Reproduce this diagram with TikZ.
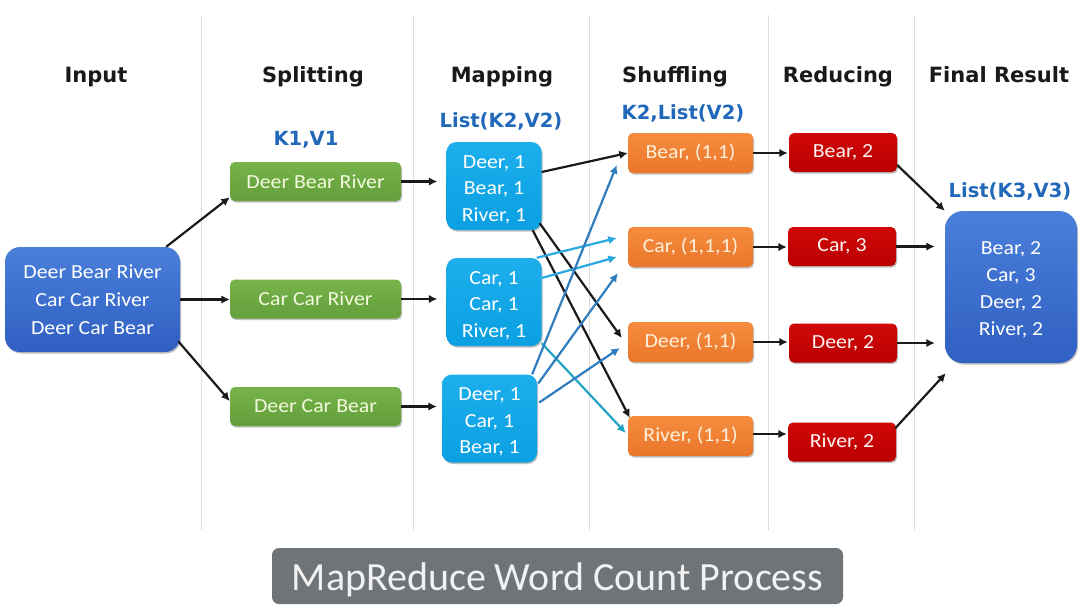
\documentclass[tikz,border=0pt]{standalone}
\usepackage{fontspec}
\usetikzlibrary{arrows.meta,calc,shadows}
\newfontfamily\bxf[FakeStretch=1.09]{Carlito}
\newfontfamily\ttlf{Carlito}
\newfontfamily\hdf{DejaVu Sans}
\newcommand\mlines[3]{\raisebox{-#1}[0pt][0pt]{\fontsize{20}{#2}\selectfont\begin{tabular}{@{}c@{}}#3\end{tabular}}}
\definecolor{sepc}{HTML}{DDDDDD}
\definecolor{lblc}{RGB}{33,104,186}
\definecolor{inTop}{HTML}{4A7FDA}
\definecolor{inBot}{HTML}{3060C2}
\definecolor{grTop}{HTML}{77B34A}
\definecolor{grBot}{HTML}{639F3B}
\definecolor{grTxt}{HTML}{F2F9DC}
\definecolor{cyTop}{HTML}{1DAEEC}
\definecolor{cyBot}{HTML}{0AA0E2}
\definecolor{orTop}{HTML}{F68C3E}
\definecolor{orBot}{HTML}{EA762B}
\definecolor{orTxt}{HTML}{FFF0DA}
\definecolor{rdTop}{HTML}{D00808}
\definecolor{rdBot}{HTML}{BA0000}
\definecolor{rdTxt}{HTML}{FFF2F2}
\definecolor{ttlc}{HTML}{6F7479}
\definecolor{arrBlk}{HTML}{1A1A1A}
\definecolor{arrLt}{HTML}{2AA8E2}
\definecolor{arrDk}{HTML}{2F7DBF}
\definecolor{arrTl}{HTML}{22A4C4}
\tikzset{
  shd/.style={drop shadow={shadow xshift=1pt,shadow yshift=-1.5pt,opacity=0.25,fill=black}},
  bx/.style={inner sep=0pt,align=center,font={\bxf\fontsize{20}{27}\selectfont}},
  inbox/.style={bx,shd,top color=inTop,bottom color=inBot,rounded corners=15pt,text=white,minimum width=175pt,minimum height=105pt},
  finbox/.style={bx,shd,top color=inTop,bottom color=inBot,rounded corners=18pt,text=white,minimum width=132pt,minimum height=152pt},
  spbox/.style={bx,shd,top color=grTop,bottom color=grBot,rounded corners=5pt,text=grTxt,minimum width=171pt,minimum height=39pt},
  mpbox/.style={bx,shd,top color=cyTop,bottom color=cyBot,rounded corners=10pt,text=white,minimum width=95pt,minimum height=88pt},
  shbox/.style={bx,shd,top color=orTop,bottom color=orBot,rounded corners=5pt,text=orTxt,minimum width=125pt,minimum height=40pt},
  rdbox/.style={bx,shd,top color=rdTop,bottom color=rdBot,rounded corners=5pt,text=rdTxt,minimum width=108pt,minimum height=39pt},
  hdr/.style={inner sep=0pt,anchor=base,font={\hdf\bfseries\fontsize{21}{25}\selectfont},text=black!90},
  lbl/.style={inner sep=0pt,anchor=base,font={\hdf\bfseries\fontsize{19.5}{23}\selectfont},text=lblc},
  sepline/.style={draw=sepc,line width=0.7pt},
  arr/.style={line width=2.2pt,-{Latex[length=8.5pt,width=8.5pt]}},
  ablk/.style={arr,draw=arrBlk},
  alt/.style={arr,draw=arrLt},
  adk/.style={arr,draw=arrDk},
  atl/.style={arr,draw=arrTl},
}
\begin{document}
\begin{tikzpicture}[x=1pt,y=-1pt]
\useasboundingbox (0,0) rectangle (1080,614);
\fill[white] (0,0) rectangle (1080,614);
% separators
\foreach \sx in {201,413,589,768,914}
  \draw[sepline] (\sx,15) -- (\sx,530);
% headers
\node[hdr] (hIn) at (96,82) {Input};
\node[hdr] (hSp) at (313,82) {Splitting};
\node[hdr] (hMp) at (502,82) {Mapping};
\node[hdr] (hSh) at (675,82) {Shuffling};
\node[hdr] (hRd) at (838,82) {Reducing};
\node[hdr] (hFn) at (999,82) {Final Result};
% labels
\node[lbl] (l1) at (306,145) {K1,V1};
\node[lbl] (l2) at (501,127) {List(K2,V2)};
\node[lbl] (l3) at (683,119) {K2,List(V2)};
\node[lbl] (l4) at (1010,197) {List(K3,V3)};
% input
\node[inbox] (in) at (92.5,299.5) {\mlines{7pt}{28}{Deer Bear River\\Car Car River\\Deer Car Bear}};
% splitting
\node[spbox] (sp1) at (315.5,181.5) {Deer Bear River};
\node[spbox] (sp2) at (315.5,299) {Car Car River};
\node[spbox] (sp3) at (315.5,406.5) {Deer Car Bear};
% mapping
\node[mpbox] (mp1) at (494,186) {\mlines{8.5pt}{26.5}{Deer, 1\\Bear, 1\\River, 1}};
\node[mpbox] (mp2) at (494,302) {\mlines{8.5pt}{26.5}{Car, 1\\Car, 1\\River, 1}};
\node[mpbox] (mp3) at (489.5,418.5) {\mlines{8.5pt}{26.5}{Deer, 1\\Car, 1\\Bear, 1}};
% shuffling
\node[shbox] (sh1) at (690.5,153) {Bear, (1,1)};
\node[shbox] (sh2) at (690.5,247) {Car, (1,1,1)};
\node[shbox] (sh3) at (690.5,342) {Deer, (1,1)};
\node[shbox] (sh4) at (690.5,436) {River, (1,1)};
% reducing
\node[rdbox] (rd1) at (843,152.5) {Bear, 2};
\node[rdbox] (rd2) at (842,246.5) {Car, 3};
\node[rdbox] (rd3) at (843,343) {Deer, 2};
\node[rdbox] (rd4) at (842,442) {River, 2};
% final
\node[finbox] (fin) at (1011,287) {\mlines{8pt}{27}{Bear, 2\\Car, 3\\Deer, 2\\River, 2}};
% title
\node[inner sep=0pt,fill=ttlc,rounded corners=7pt,minimum width=571pt,minimum height=56pt,text height=28pt,text depth=0pt,text=white!95!black,font={\ttlf\fontsize{40}{44}\selectfont}] (ttl) at (557.5,576) {MapReduce Word Count Process};
% input -> splitting
\draw[ablk] ($(in.north east)+(-14,0)$) -- ($(sp1.south west)+(0,-4)$);
\draw[ablk] (in.east) -- (in.east -| sp2.west);
\draw[ablk] ($(in.south east)+(-2,-11)$) -- ($(sp3.west)+(0,-5.5)$);
% splitting -> mapping
\draw[ablk,shorten >=9pt] (sp1.east) -- (sp1.east -| mp1.west);
\draw[ablk,shorten >=9pt] (sp2.east) -- (sp2.east -| mp2.west);
\draw[ablk,shorten >=5pt] (sp3.east) -- (sp3.east -| mp3.west);
% mapping -> shuffling
\draw[ablk] ($(mp1.east)+(0,-14)$) -- (sh1.west);
\draw[ablk] ($(mp1.south east)+(-2,-7)$) -- ($(sh3.west)+(-6,-4)$);
\draw[ablk] ($(mp1.south east)+(-9,0)$) -- ($(sh4.north west)+(2,2)$);
\draw[alt] ($(mp2.north east)+(-5,0)$) -- ($(sh2.west)+(-11,-9)$);
\draw[alt] ($(mp2.east)+(0,-24)$) -- ($(sh2.west)+(-11,10)$);
\draw[atl] ($(mp2.south east)+(0,-3)$) -- ($(sh4.west)+(-2,-3)$);
\draw[adk] ($(mp3.north east)+(-5,0)$) -- ($(sh1.west)+(-11,12)$);
\draw[adk] ($(mp3.east)+(1,-35)$) -- ($(sh2.south west)+(-10,6)$);
\draw[adk] ($(mp3.east)+(2,-16)$) -- ($(sh3.west)+(-8,6)$);
% shuffling -> reducing
\draw[ablk,shorten >=1pt] (sh1.east) -- (sh1.east -| rd1.west);
\draw[ablk,shorten >=1pt] (sh2.east) -- (sh2.east -| rd2.west);
\draw[ablk,shorten >=1pt] (sh3.east) -- (sh3.east -| rd3.west);
\draw[ablk,shorten >=1pt] ($(sh4.east)+(0,-2)$) -- ($(sh4.east -| rd4.west)+(0,-2)$);
% reducing -> final
\draw[ablk] ($(rd1.east)+(0,12.5)$) -- (fin.north west);
\draw[ablk,shorten >=10pt] (rd2.east) -- (rd2.east -| fin.west);
\draw[ablk,shorten >=10pt] (rd3.east) -- (rd3.east -| fin.west);
\draw[ablk] ($(rd4.north east)+(-1,6)$) -- ($(fin.south west)+(1,10)$);
\end{tikzpicture}
\end{document}
